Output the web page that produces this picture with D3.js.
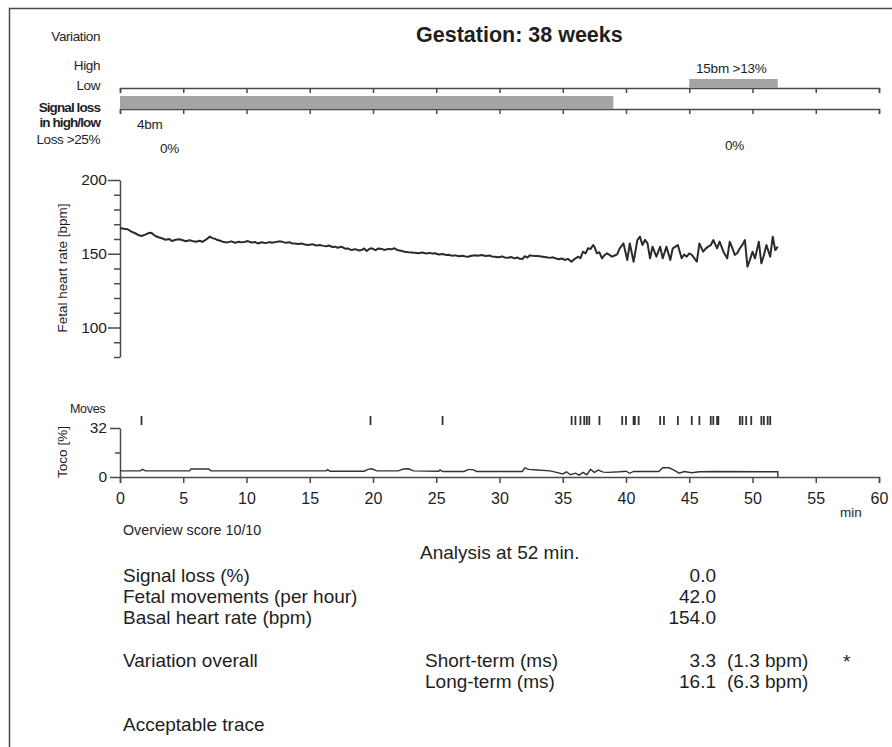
<!DOCTYPE html>
<html>
<head>
<meta charset="utf-8">
<script src="https://cdn.jsdelivr.net/npm/d3@7"></script>
<style>
  body { margin: 0; background: #fff; }
  svg { font-family: 'Liberation Sans', Arial, sans-serif; fill: #1e1e1e; }
  .axis path, .axis line { stroke: #4a4a4a; stroke-width: 1.5; }
  .axis text { fill: #1e1e1e; }
</style>
</head>
<body>
<div class="ctg-container"></div>
<script>
// x axis ticks (minutes)
const minuteTicks = [0, 5, 10, 15, 20, 25, 30, 35, 40, 45, 50, 55, 60];
const hrMajorTicks = [100, 150, 200];
const hrMinorTicks = [80, 90, 110, 120, 130, 140, 160, 170, 180, 190];
const tocoTicks = [0, 32];

// variation episodes [start min, end min]
const highEpisodes = [[45, 52]];
const lowEpisodes = [[0, 39]];

// fetal heart rate trace [min, bpm]
const hrSeries = [
  [0,167.5],[0.3,167],[0.6,166.6],[0.9,165],[1.2,163.9],[1.5,162.5],[1.7,162],[2.0,163],[2.3,164.2],[2.5,164],
  [2.8,162],[3.1,161],[3.3,160.5],[3.6,159.5],[3.9,160],[4.1,158.6],[4.4,159.5],[4.7,159.8],[4.9,159.3],[5.2,158.5],
  [5.5,159.2],[5.7,158.6],[6.0,158.2],[6.3,158.8],[6.5,158],[6.8,159.5],[7.1,161.6],[7.3,160.6],[7.5,160.2],[7.7,159.3],
  [8.0,158.6],[8.2,157.9],[8.5,157.7],[8.8,158.4],[9.1,157.5],[9.4,158.1],[9.6,157.7],[9.9,158.2],[10.1,158.6],[10.4,157.6],
  [10.7,157.9],[10.9,157],[11.2,157.8],[11.5,157.2],[11.8,157.9],[12.0,157.5],[12.3,157.9],[12.6,158.4],[12.8,158.2],[13.1,157.4],
  [13.4,157.8],[13.6,157],[13.8,157],[14.1,156.6],[14.4,156.9],[14.6,156.2],[14.9,156],[15.2,156.5],[15.5,155.6],[15.8,155.9],
  [16.0,155.5],[16.3,155],[16.5,155.6],[16.8,154.6],[17.0,154.8],[17.2,154.1],[17.5,154.8],[17.8,153.4],[18.0,153.6],[18.3,152.5],
  [18.6,153.1],[18.9,152.2],[19.1,152.5],[19.3,153.6],[19.5,151.8],[19.7,153.2],[19.9,153.7],[20.2,152.4],[20.4,153.5],[20.7,153.2],
  [20.9,152.6],[21.2,153.3],[21.5,153.1],[21.7,153.7],[21.9,152.6],[22.2,152],[22.5,151.4],[22.8,151],[23.1,150.9],[23.3,150.6],
  [23.6,150.3],[23.9,150.8],[24.2,150.2],[24.5,150.6],[24.7,150.1],[24.9,150.3],[25.2,149.5],[25.5,149.8],[25.8,149.1],[26.0,149.3],
  [26.2,148.7],[26.5,148.9],[26.8,148.3],[27.1,148.7],[27.3,148.2],[27.5,148],[27.8,148.7],[28.1,149],[28.3,148.6],[28.6,149.2],
  [28.9,148.5],[29.2,148.8],[29.4,148.2],[29.6,148],[29.9,147.6],[30.2,148.2],[30.4,147.5],[30.7,147.3],[30.9,147.8],[31.2,146.9],
  [31.4,147.5],[31.6,146.6],[31.8,146.4],[32.0,148.3],[32.2,147.4],[32.4,148.9],[32.6,148.7],[32.9,148.5],[33.2,148.3],[33.4,148],
  [33.7,147.6],[34.0,147.2],[34.2,147.6],[34.4,146.9],[34.7,146.3],[34.9,146.8],[35.2,145.8],[35.4,146.5],[35.7,144.6],[35.9,146.2],
  [36.2,148],[36.4,147],[36.6,151.4],[36.8,150.2],[37.0,153.7],[37.2,153.2],[37.4,155.9],[37.5,154.8],[37.7,150.3],[37.9,151],
  [38.1,146.9],[38.3,149],[38.5,150.3],[38.7,149.2],[38.9,148],[39.1,148.8],[39.3,149.6],[39.5,153.7],[39.8,157],[40.1,145.8],
  [40.3,157],[40.6,144.6],[40.9,159.3],[41.1,161.6],[41.3,155.9],[41.5,159.4],[41.7,157],[41.9,146.9],[42.1,154.8],[42.4,148],
  [42.7,154.8],[42.9,146.9],[43.2,154.8],[43.5,145.8],[43.7,153.7],[44.1,155.9],[44.4,146.9],[44.6,149.5],[44.8,148],[45.0,150.2],
  [45.2,149.2],[45.6,144.6],[45.8,157],[46.1,151.4],[46.3,153.5],[46.5,154.8],[46.7,155.8],[46.9,159.3],[47.2,153.7],[47.4,158.2],
  [47.7,151.4],[48.0,146.9],[48.2,158.2],[48.4,154],[48.6,149.2],[48.8,150.5],[49.0,153.7],[49.2,156],[49.4,159.3],[49.6,141.2],
  [49.8,146],[50.0,151.4],[50.2,146.9],[50.5,158.2],[50.7,143.5],[50.9,149],[51.1,155.9],[51.4,148],[51.6,161.6],[51.8,152.5],
  [52.0,154.8]
];

// toco trace [min, %]
const tocoSeries = [
  [0,4],[1.6,4],[1.8,5],[2.0,4],[5.5,4],[5.6,5.2],[7.0,5.2],[7.2,4],[16.3,4],[16.4,4.8],[16.6,3.8],[19.3,3.8],
  [19.6,5],[19.9,5.4],[20.3,4],[22,4],[22.4,5.2],[22.8,5.4],[23.2,4],[25.2,3.8],[25.3,4.6],[25.5,3.6],[27.2,3.6],
  [27.5,4.8],[27.9,4.8],[28.2,3.6],[31.8,3.6],[32,6],[32.3,5],[33,4.6],[34,4],[34.5,3],[35,2],[35.3,3.4],[35.6,1.5],
  [36,2.5],[36.3,1.2],[36.6,3],[36.9,1.5],[37.2,5],[37.5,3],[37.8,4.5],[38.2,3.2],[38.6,3],[39.5,3.4],[40,3.8],
  [40.3,2.4],[40.6,3.6],[42.6,3.6],[42.9,6],[43.4,6],[43.8,4.5],[44.2,2.5],[44.6,3.6],[45.2,2.8],[45.8,3.4],[47,3.6],
  [52,3.4],[52,0]
];

// fetal movements (min)
const movesMinutes = [
  1.7, 19.8, 25.5,
  35.7, 36.0, 36.4, 36.7, 36.9, 37.1, 37.9,
  39.7, 40.0, 40.6, 40.7, 41.0,
  42.7, 43.0, 44.1, 45.2, 45.8,
  46.7, 46.9, 47.2, 47.3,
  49.0, 49.2, 49.5, 49.9,
  50.7, 50.9, 51.2, 51.4
];

// summary table
const summaryLabels = ['Signal loss (%)', 'Fetal movements (per hour)', 'Basal heart rate (bpm)'];
const summaryValues = ['0.0', '42.0', '154.0'];
const variationLabels = ['Short-term (ms)', 'Long-term (ms)'];
const variationValues = ['3.3', '16.1'];
const variationBpm = ['(1.3 bpm)', '(6.3 bpm)'];

const svg_width = 892;
const svg_height = 747;

function setupCanvas() {
  const svg = d3.select('.ctg-container').append('svg')
    .attr('width', svg_width).attr('height', svg_height);

  // frame (top + left edges)
  svg.append('path')
    .attr('d', 'M9.5,747 V8.5 H892')
    .attr('fill', 'none').attr('stroke', '#4a4a4a').attr('stroke-width', 1.5);

  const xScale = d3.scaleLinear().domain([0, 60]).range([120, 879]);
  const hrScale = d3.scaleLinear().domain([80, 200]).range([357, 180]);
  const tocoScale = d3.scaleLinear().domain([0, 32]).range([477, 428]);

  // title
  svg.append('text').text('Gestation: 38 weeks')
    .attr('x', 416).attr('y', 42)
    .style('font-size', '21.5px').style('font-weight', 'bold');

  // left labels in the variation panel
  const leftLabels = [
    { t: 'Variation', y: 41, b: false },
    { t: 'High', y: 70, b: false },
    { t: 'Low', y: 90, b: false },
    { t: 'Signal loss', y: 112, b: true },
    { t: 'in high/low', y: 127, b: true },
    { t: 'Loss >25%', y: 144, b: false }
  ];
  svg.selectAll('.left-label').data(leftLabels).enter().append('text')
    .attr('class', 'left-label')
    .attr('x', 100).attr('y', d => d.y)
    .attr('text-anchor', 'end')
    .style('font-size', d => d.b ? '13.5px' : '13.5px')
    .style('font-weight', d => d.b ? 'bold' : 'normal')
    .style('letter-spacing', d => d.b ? '-0.9px' : '-0.4px')
    .text(d => d.t);

  // variation band axes
  const bandAxis = d3.axisBottom(xScale).tickValues(minuteTicks).tickFormat('').tickSizeInner(5).tickSizeOuter(5);
  svg.append('g').attr('class', 'axis').attr('transform', 'translate(0,88)').call(bandAxis);
  svg.append('g').attr('class', 'axis').attr('transform', 'translate(0,109)').call(bandAxis);

  svg.selectAll('.high-bar').data(highEpisodes).enter().append('rect')
    .attr('class', 'high-bar')
    .attr('x', d => xScale(d[0])).attr('width', d => xScale(d[1]) - xScale(d[0]))
    .attr('y', 79).attr('height', 9)
    .attr('fill', '#a4a4a4');
  svg.selectAll('.low-bar').data(lowEpisodes).enter().append('rect')
    .attr('class', 'low-bar')
    .attr('x', d => xScale(d[0])).attr('width', d => xScale(d[1]) - xScale(d[0]))
    .attr('y', 96).attr('height', 13)
    .attr('fill', '#a4a4a4');

  const bandText = [
    { t: '15bm >13%', x: 696, y: 73 },
    { t: '4bm', x: 137, y: 129 },
    { t: '0%', x: 160, y: 153 },
    { t: '0%', x: 725, y: 150 }
  ];
  svg.selectAll('.band-text').data(bandText).enter().append('text')
    .attr('class', 'band-text')
    .attr('x', d => d.x).attr('y', d => d.y)
    .style('font-size', '13.5px').style('letter-spacing', '-0.2px')
    .text(d => d.t);

  // heart rate axis
  const hrAxisMajor = d3.axisLeft(hrScale).tickValues(hrMajorTicks).tickSizeInner(12).tickSizeOuter(0).tickPadding(1);
  const hrAxisMinor = d3.axisLeft(hrScale).tickValues(hrMinorTicks).tickFormat('').tickSizeInner(6).tickSizeOuter(0);
  svg.append('g').attr('class', 'axis').attr('transform', 'translate(120,0)').call(hrAxisMinor);
  const hrAxisG = svg.append('g').attr('class', 'axis').attr('transform', 'translate(120,0)').call(hrAxisMajor);
  hrAxisG.selectAll('text').style('font-size', '15.5px');
  hrAxisG.select('.domain').remove();

  svg.append('text').text('Fetal heart rate [bpm]')
    .attr('transform', 'translate(67,268) rotate(-90)')
    .attr('text-anchor', 'middle')
    .style('font-size', '13.5px');

  // heart rate trace
  const hrLine = d3.line().x(d => xScale(d[0])).y(d => hrScale(d[1]));
  svg.append('path').datum(hrSeries)
    .attr('d', hrLine)
    .attr('fill', 'none').attr('stroke', '#2e2a2c').attr('stroke-width', 2)
    .attr('stroke-linejoin', 'round');

  // moves
  svg.append('text').text('Moves')
    .attr('x', 70).attr('y', 413)
    .style('font-size', '12.5px').style('letter-spacing', '-0.3px');
  svg.selectAll('.move').data(movesMinutes).enter().append('line')
    .attr('class', 'move')
    .attr('x1', d => xScale(d)).attr('x2', d => xScale(d))
    .attr('y1', 416).attr('y2', 425)
    .attr('stroke', '#333').attr('stroke-width', 1.8);

  // toco axis
  const tocoAxis = d3.axisLeft(tocoScale).tickValues(tocoTicks).tickSizeInner(10).tickSizeOuter(0).tickPadding(3);
  const tocoG = svg.append('g').attr('class', 'axis').attr('transform', 'translate(120,0)').call(tocoAxis);
  tocoG.selectAll('text').style('font-size', '15.5px');
  svg.append('g').attr('class', 'axis').attr('transform', 'translate(120,0)')
    .call(d3.axisLeft(tocoScale).tickValues([16]).tickFormat('').tickSizeInner(5).tickSizeOuter(0))
    .select('.domain').remove();

  svg.append('text').text('Toco [%]')
    .attr('transform', 'translate(67,452) rotate(-90)')
    .attr('text-anchor', 'middle')
    .style('font-size', '13.5px');

  // toco trace
  const tocoLine = d3.line().x(d => xScale(d[0])).y(d => tocoScale(d[1]));
  svg.append('path').datum(tocoSeries)
    .attr('d', tocoLine)
    .attr('fill', 'none').attr('stroke', '#333').attr('stroke-width', 1.4);

  // minutes axis
  const xAxis = d3.axisBottom(xScale).tickValues(minuteTicks).tickSizeInner(6).tickSizeOuter(6).tickPadding(10);
  const xAxisG = svg.append('g').attr('class', 'axis x').attr('transform', 'translate(0,477)').call(xAxis);
  xAxisG.selectAll('text').style('font-size', '16px');
  svg.append('text').text('min').attr('x', 840).attr('y', 517).style('font-size', '13.5px');

  // summary text
  svg.append('text').text('Overview score 10/10').attr('x', 123).attr('y', 535).style('font-size', '14.3px');
  svg.append('text').text('Analysis at 52 min.').attr('x', 420).attr('y', 559).style('font-size', '19px');

  const rowY = [582, 603, 624];
  svg.selectAll('.sum-label').data(summaryLabels).enter().append('text')
    .attr('class', 'sum-label').attr('x', 123).attr('y', (d, i) => rowY[i])
    .style('font-size', '19px').text(d => d);
  svg.selectAll('.sum-value').data(summaryValues).enter().append('text')
    .attr('class', 'sum-value').attr('x', 716).attr('y', (d, i) => rowY[i])
    .attr('text-anchor', 'end').style('font-size', '19px').text(d => d);

  const varY = [667, 688];
  svg.append('text').text('Variation overall').attr('x', 123).attr('y', varY[0]).style('font-size', '19px');
  svg.selectAll('.var-label').data(variationLabels).enter().append('text')
    .attr('class', 'var-label').attr('x', 425).attr('y', (d, i) => varY[i])
    .style('font-size', '19px').text(d => d);
  svg.selectAll('.var-value').data(variationValues).enter().append('text')
    .attr('class', 'var-value').attr('x', 716).attr('y', (d, i) => varY[i])
    .attr('text-anchor', 'end').style('font-size', '19px').text(d => d);
  svg.selectAll('.var-bpm').data(variationBpm).enter().append('text')
    .attr('class', 'var-bpm').attr('x', 727).attr('y', (d, i) => varY[i])
    .style('font-size', '19px').text(d => d);
  svg.append('text').text('*').attr('x', 843).attr('y', 668).style('font-size', '19px');

  svg.append('text').text('Acceptable trace').attr('x', 123).attr('y', 731).style('font-size', '19px');
}

setupCanvas();
</script>
</body>
</html>
